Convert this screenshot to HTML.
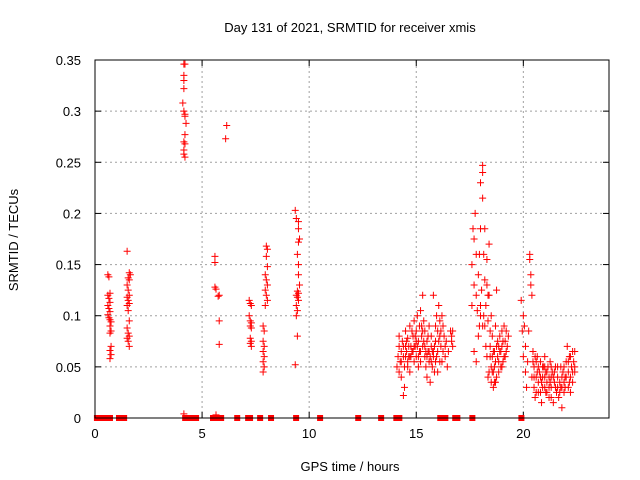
<!DOCTYPE html>
<html><head><meta charset="utf-8"><style>
body{margin:0;background:#fff}
svg{display:block;font-family:"Liberation Sans",sans-serif}
</style></head><body>
<svg id="chart" width="640" height="480">
<text x="350" y="32" font-size="13" text-anchor="middle">Day 131 of 2021, SRMTID for receiver xmis</text>
<text x="350" y="471" font-size="13" text-anchor="middle">GPS time / hours</text>
<text x="18" y="240" font-size="13" text-anchor="middle" transform="rotate(-90 18 240)">SRMTID / TECUs</text>
<g id="grid"></g>
<g id="ticks"></g>
<g id="marks"></g>
<rect x="95" y="60" width="514" height="358" fill="none" stroke="#000" stroke-width="1"/>
</svg>
<script>
const xTicks=[0,5,10,15,20];
const yTicks=[0,0.05,0.1,0.15,0.2,0.25,0.3,0.35];
const yTickLabels=["0","0.05","0.1","0.15","0.2","0.25","0.3","0.35"];
const zeroHours=[0.09,0.28,0.42,0.61,0.7,1.12,1.36,4.21,4.44,4.53,4.72,5.51,5.65,5.75,5.89,6.64,7.15,7.24,7.71,8.22,9.39,10.51,12.29,13.36,14.07,14.21,16.12,16.36,16.82,16.92,17.62,19.91];
const points=[
[0.6,0.14],[0.65,0.138],[0.7,0.122],[0.6,0.12],[0.65,0.117],[0.7,0.113],[0.6,0.11],[0.65,0.107],[0.7,0.104],[0.6,0.101],[0.65,0.098],[0.7,0.096],[0.75,0.094],[0.7,0.09],[0.75,0.085],[0.7,0.083],[0.75,0.07],[0.7,0.066],[0.75,0.062],[0.7,0.058],
[1.5,0.163],[1.6,0.142],[1.65,0.14],[1.55,0.137],[1.6,0.135],[1.5,0.13],[1.55,0.125],[1.6,0.12],[1.5,0.118],[1.55,0.115],[1.6,0.112],[1.5,0.11],[1.55,0.105],[1.6,0.095],[1.5,0.088],[1.55,0.083],[1.6,0.08],[1.5,0.078],[1.55,0.075],[1.6,0.07],
[4.15,0.346],[4.2,0.346],[4.15,0.335],[4.15,0.33],[4.15,0.322],[4.1,0.308],[4.15,0.3],[4.2,0.297],[4.2,0.295],[4.25,0.288],[4.2,0.277],[4.15,0.27],[4.2,0.268],[4.15,0.262],[4.15,0.258],[4.2,0.255],[4.15,0.004],
[5.6,0.158],[5.6,0.152],[5.6,0.128],[5.65,0.126],[5.8,0.12],[5.75,0.119],[5.8,0.095],[5.8,0.072],[5.65,0.003],[6.15,0.286],[6.1,0.273],
[7.2,0.115],[7.25,0.112],[7.3,0.11],[7.2,0.1],[7.25,0.095],[7.3,0.093],[7.25,0.09],[7.3,0.088],[7.25,0.078],[7.3,0.075],[7.25,0.073],[7.3,0.07],
[8.0,0.168],[8.05,0.165],[8.0,0.158],[8.05,0.148],[7.95,0.14],[8.0,0.135],[8.05,0.13],[7.95,0.125],[8.0,0.12],[8.05,0.115],[7.95,0.11],[7.85,0.09],[7.9,0.085],[7.85,0.075],[7.9,0.07],[7.85,0.065],[7.9,0.06],[7.85,0.055],[7.9,0.05],[7.85,0.045],
[9.35,0.203],[9.4,0.195],[9.5,0.192],[9.5,0.185],[9.55,0.175],[9.5,0.172],[9.45,0.16],[9.5,0.15],[9.5,0.14],[9.55,0.13],[9.45,0.124],[9.5,0.122],[9.4,0.12],[9.45,0.118],[9.5,0.115],[9.4,0.11],[9.45,0.105],[9.4,0.1],[9.45,0.08],[9.35,0.052],
[14.1,0.05],[14.15,0.06],[14.2,0.045],[14.2,0.07],[14.25,0.055],[14.3,0.065],[14.3,0.04],[14.35,0.075],[14.4,0.06],[14.4,0.022],[14.45,0.05],[14.5,0.07],[14.5,0.085],[14.55,0.065],[14.6,0.055],[14.6,0.078],[14.65,0.06],[14.7,0.09],[14.7,0.045],[14.75,0.07],[14.8,0.065],[14.85,0.08],[14.9,0.055],[14.9,0.095],[14.95,0.07],[15.0,0.085],[15.0,0.06],[15.05,0.1],[15.1,0.075],[15.1,0.05],[15.15,0.09],[15.2,0.105],[15.2,0.065],[15.25,0.08],[15.3,0.07],[15.3,0.12],[15.35,0.095],[15.4,0.06],[15.4,0.085],[15.45,0.05],[15.5,0.075],[15.5,0.04],[15.55,0.065],[15.6,0.055],[15.6,0.09],[15.65,0.035],[15.7,0.07],[15.7,0.08],[15.75,0.05],[15.8,0.12],[15.8,0.06],[15.85,0.045],[15.9,0.09],[15.9,0.075],[15.95,0.1],[16.0,0.065],[16.0,0.085],[16.05,0.11],[16.1,0.08],[16.1,0.095],[16.15,0.07],[16.2,0.1],[16.2,0.055],[16.25,0.09],[16.3,0.08],[16.35,0.06],[16.4,0.075],[16.45,0.05],[16.5,0.065],[16.6,0.085],[16.65,0.075],[16.65,0.08],
[14.6,0.05],[14.7,0.06],[14.8,0.085],[14.9,0.07],[15.0,0.075],[15.1,0.06],[15.2,0.055],[15.3,0.085],[15.4,0.07],[15.5,0.06],[15.6,0.065],[15.7,0.055],[15.8,0.065],[15.9,0.055],[16.0,0.045],[16.1,0.055],
[14.3,0.055],[14.4,0.07],[14.5,0.06],[14.55,0.075],[14.65,0.07],[14.75,0.06],[14.85,0.065],[14.95,0.08],[15.05,0.07],[15.15,0.065],[15.25,0.09],[15.35,0.075],[15.45,0.065],[15.55,0.08],[15.65,0.06],[15.75,0.065],[15.85,0.07],[15.95,0.06],[16.05,0.075],[16.15,0.085],[16.25,0.065],[16.35,0.07],[14.45,0.03],[14.2,0.08],[16.7,0.085],[16.7,0.07],
[17.6,0.11],[17.6,0.15],[17.65,0.185],[17.7,0.175],[17.7,0.13],[17.75,0.2],[17.8,0.16],[17.8,0.12],[17.85,0.105],[17.9,0.08],[17.9,0.14],[17.95,0.09],[18.0,0.23],[18.0,0.185],[18.0,0.1],[18.05,0.125],[18.1,0.247],[18.1,0.24],[18.1,0.215],[18.15,0.16],[18.2,0.185],[18.2,0.09],[18.25,0.07],[18.3,0.13],[18.3,0.155],[18.35,0.04],[18.4,0.17],[18.4,0.12],[18.45,0.06],[18.5,0.1],[18.5,0.05],[18.55,0.08],[18.6,0.045],[18.6,0.065],[18.65,0.035],[18.7,0.09],[18.7,0.055],[18.75,0.04],[18.8,0.075],[18.8,0.06],[18.85,0.045],[18.9,0.08],[18.9,0.065],[18.95,0.05],[19.0,0.085],[19.0,0.07],[19.05,0.055],[19.1,0.09],[19.1,0.06],[19.15,0.075],[19.2,0.085],[19.25,0.07],[18.0,0.11],[18.1,0.09],[18.2,0.135],[17.7,0.065],[17.8,0.055],[18.3,0.06],[18.4,0.045],[18.5,0.035],[18.6,0.03],[18.7,0.035],[19.2,0.065],[18.75,0.125],
[18.45,0.085],[18.55,0.06],[18.65,0.05],[18.75,0.07],[18.85,0.055],[18.95,0.065],[19.05,0.075],[19.15,0.06],[18.35,0.095],[18.25,0.11],[18.45,0.07],[18.55,0.045],[18.65,0.065],[18.85,0.07],[19.0,0.05],[19.3,0.08],[18.15,0.1],[17.95,0.16],[18.35,0.12],
[19.9,0.115],[19.95,0.085],[20.0,0.1],[20.0,0.06],[20.05,0.09],[20.1,0.045],[20.1,0.07],[20.15,0.03],[20.2,0.055],[20.3,0.16],[20.3,0.155],[20.35,0.14],[20.35,0.13],[20.4,0.12],[20.4,0.04],[20.45,0.065],[20.5,0.03],[20.5,0.05],[20.55,0.02],[20.6,0.04],[20.65,0.06],[20.7,0.035],[20.75,0.045],[20.8,0.025],[20.8,0.055],[20.85,0.015],[20.9,0.04],[20.95,0.05],[21.0,0.03],[21.0,0.06],[21.05,0.045],[21.1,0.025],[21.1,0.035],[21.15,0.05],[21.2,0.02],[21.2,0.04],[21.25,0.055],[21.3,0.03],[21.35,0.045],[21.4,0.015],[21.45,0.035],[21.5,0.05],[21.55,0.025],[21.6,0.04],[21.65,0.02],[21.7,0.035],[21.75,0.05],[21.8,0.01],[21.8,0.03],[21.85,0.045],[21.9,0.025],[21.95,0.04],[22.0,0.055],[22.05,0.07],[22.1,0.045],[22.1,0.03],[22.15,0.06],[22.2,0.04],[22.25,0.05],[22.3,0.035],[22.35,0.055],[22.4,0.045],[22.4,0.065],[20.7,0.05],[20.9,0.03],[21.3,0.05],[21.6,0.03],[21.9,0.05],[22.2,0.025],[20.6,0.025],[21.0,0.04],[20.25,0.085],[21.3,0.04],[22.3,0.045],
[20.5,0.04],[20.6,0.055],[20.7,0.025],[20.8,0.04],[20.9,0.05],[21.0,0.05],[21.1,0.045],[21.2,0.03],[21.3,0.02],[21.4,0.04],[21.5,0.03],[21.6,0.05],[21.7,0.025],[21.8,0.04],[21.9,0.035],[22.0,0.04],[22.1,0.055],[22.2,0.06],[22.3,0.065],[22.4,0.05],[21.45,0.045],[21.25,0.035],[21.05,0.025],[20.85,0.035],[20.65,0.045],[21.75,0.03],[21.95,0.03],[22.15,0.035],[20.45,0.055],[20.55,0.06]
];
const X0=95,X1=609,Y0=418,Y1=60,XMAX=24,YMAX=0.35;
function xs(h){return X0+(X1-X0)*h/XMAX;}
function ys(v){return Y0-(Y0-Y1)*v/YMAX;}
const NS="http://www.w3.org/2000/svg";
function mk(tag,attrs,parent){const e=document.createElementNS(NS,tag);for(const k in attrs)e.setAttribute(k,attrs[k]);parent.appendChild(e);return e;}
const grid=document.getElementById('grid'),ticks=document.getElementById('ticks'),marks=document.getElementById('marks');
xTicks.forEach(t=>{const x=xs(t);
 if(t>0){const g=mk('line',{x1:x,y1:Y0,x2:x,y2:Y1,stroke:'#a0a0a0','stroke-dasharray':'2,3'},grid);
 
 }
 mk('line',{x1:x,y1:Y0,x2:x,y2:Y0-6,stroke:'#000'},ticks);
 mk('line',{x1:x,y1:Y1,x2:x,y2:Y1+6,stroke:'#000'},ticks);
 const l=mk('text',{x:x,y:Y0+20,'font-size':13,'text-anchor':'middle'},ticks);l.textContent=t;
 
 
});
yTicks.forEach((t,i)=>{const y=ys(t);
 if(t>0&&t<YMAX){const g=mk('line',{x1:X0,y1:y,x2:X1,y2:y,stroke:'#a0a0a0','stroke-dasharray':'2,3'},grid);
 
 }
 mk('line',{x1:X0,y1:y,x2:X0+6,y2:y,stroke:'#000'},ticks);
 mk('line',{x1:X1,y1:y,x2:X1-6,y2:y,stroke:'#000'},ticks);
 const l=mk('text',{x:X0-14,y:y+5,'font-size':13,'text-anchor':'end'},ticks);l.textContent=yTickLabels[i];
 
 
});
function plus(h,v,name){const x=xs(h),y=ys(v);
 const p=mk('path',{d:`M${x-3.5},${y}H${x+3.5}M${x},${y-3.5}V${y+3.5}`,stroke:'#ff0000','stroke-width':1,fill:'none'},marks);
 
 
}
points.forEach(p=>plus(p[0],p[1],'srmtid-point'));
zeroHours.forEach(h=>{
 const r=mk('rect',{x:xs(h)-3,y:Y0-3,width:6,height:6,fill:'#ff0000'},marks);
 
 
});
</script>
</body></html>
